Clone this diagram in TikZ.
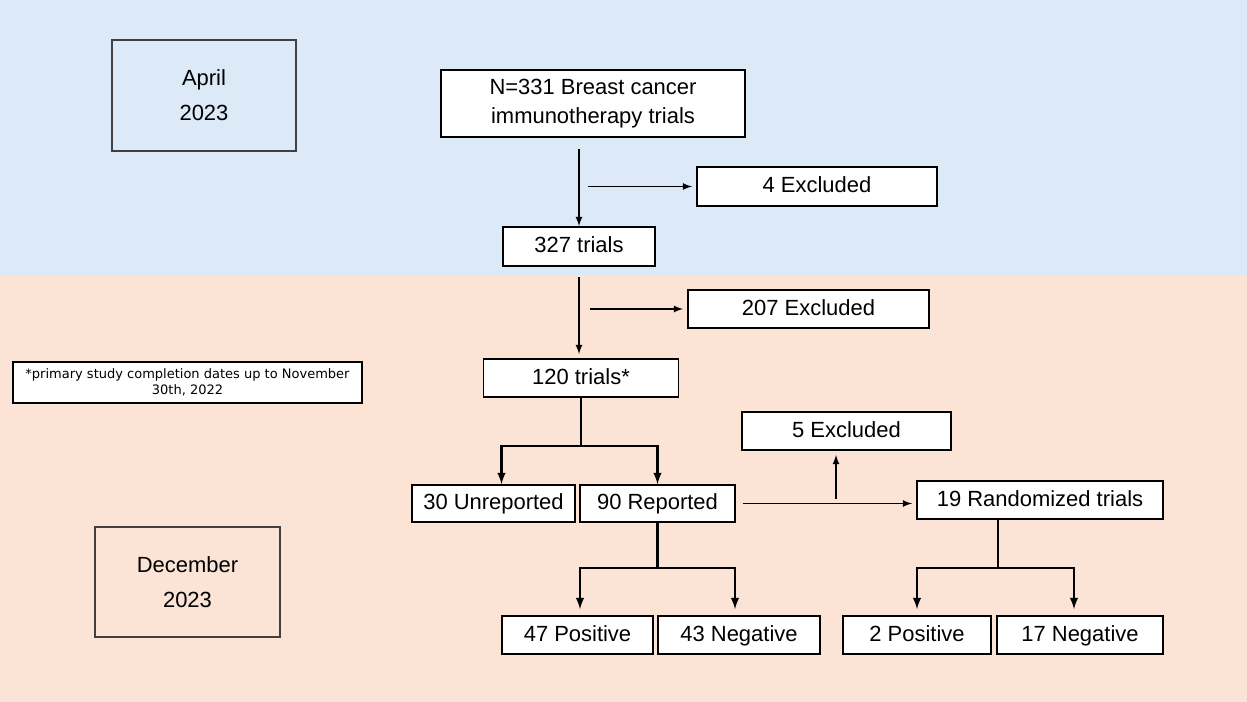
\documentclass[tikz,border=0pt]{standalone}
\usepackage{fontspec}
\setmainfont{Liberation Sans}
\newfontfamily\notefont{DejaVu Sans}
\usetikzlibrary{calc}
\definecolor{AprilBlue}{RGB}{220,233,246}
\definecolor{DecPeach}{RGB}{251,227,214}
\tikzset{
-latex,
Box/.style 2 args={draw,fill=white,line width=1.1pt,inner sep=0pt,align=center,minimum width=#1*0.02cm,minimum height=#2*0.02cm,font=\fontsize{12.5}{16.5}\selectfont},
Cell/.style 2 args={Box={#1}{#2},text height=1.75ex,text depth=0.45ex},
DateBox/.style 2 args={draw=black!75,line width=0.6pt,inner sep=0pt,align=center,minimum width=#1*0.02cm,minimum height=#2*0.02cm,font=\fontsize{12.5}{20}\selectfont},
Link/.style={line width=0.8pt},
Branch/.style={line width=1.2pt}
}

\begin{document}
\begin{tikzpicture}[x=0.02cm,y=-0.02cm]
	% Periods
	\fill[AprilBlue,-] (0,0) rectangle (1247,275);
	\fill[DecPeach,-] (0,275) rectangle (1247,702);
	\node[DateBox={184}{111}] (April) at (204,95.5) {April\\2023};
	\node[DateBox={185}{110}] (December) at (187.5,582) {December\\2023};
	\node[Box={349}{41},line width=1pt,font=\notefont\fontsize{7.4}{9}\selectfont] (Note) at (187.5,382.5) {*primary study completion dates up to November\\30th, 2022};
	
	% Screening
	\node[Box={304}{67}] (N331) at (593,103.5) {N=331 Breast cancer\\immunotherapy trials};
	\node[Cell={240}{39}] (Excl4) at (817,186.5) {4 Excluded};
	\node[Cell={152}{39}] (T327) at (579,246.5) {327 trials};
	\node[Cell={241}{38}] (Excl207) at (808.5,309) {207 Excluded};
	\node[Cell={195}{38}] (T120) at (581,378) {120 trials*};
	\node[Cell={209}{38}] (Excl5) at (846.5,431) {5 Excluded};
	\node[Cell={163}{37}] (Unrep) at (493.5,503.5) {30 Unreported};
	\node[Cell={155}{37}] (Rep) at (657.5,503.5) {90 Reported};
	\node[Cell={246}{38}] (Rand) at (1040,500) {19 Randomized trials};
	
	% Outcomes
	\node[Cell={151}{38}] (Pos47) at (577.5,635) {47 Positive};
	\node[Cell={162}{38}] (Neg43) at (739,635) {43 Negative};
	\node[Cell={148}{38}] (Pos2) at (917,635) {2 Positive};
	\node[Cell={166}{38}] (Neg17) at (1080,635) {17 Negative};
	
	\begin{scope}[Link]
		\draw[shorten <=0.22cm] (N331.south -| T327.north) -- (T327.north);
		\draw[shorten <=0.18cm,shorten >=0.08cm] (Excl4.west -| T327.north) -- (Excl4.west);
		\draw[shorten <=0.2cm,shorten >=0.08cm] (T327.south) -- (T327.south |- T120.north);
		\draw[shorten <=0.18cm,shorten >=0.08cm] (Excl207.west -| T120.north) -- (Excl207.west);
		\draw[shorten <=0.14cm,shorten >=0.08cm] (Rep.east) -- (Rep.east -| Rand.west);
		\draw[shorten <=0.1cm,shorten >=0.08cm] ([xshift=-0.21cm]Excl5.south |- Rep.east) -- ([xshift=-0.21cm]Excl5.south);
	\end{scope}
	
	\begin{scope}[Branch]
		\coordinate (Split120) at ($(T120.south)+(0,48)$);
		\draw[-] (T120.south) -- (Split120);
		\draw (Split120) -| ([xshift=0.16cm]Unrep.north);
		\draw (Split120) -| (Rep.north);
		
		\coordinate (SplitRep) at ($(Rep.south)+(0,45)$);
		\draw[-] (Rep.south) -- (SplitRep);
		\draw[shorten >=0.12cm] (SplitRep) -| ([xshift=0.05cm]Pos47.north);
		\draw[shorten >=0.12cm] (SplitRep) -| ([xshift=-0.08cm]Neg43.north);
		
		\coordinate (SplitRand) at ($(Rand.south)+(-42,48)$);
		\draw[-] (SplitRand |- Rand.south) -- (SplitRand);
		\draw[shorten >=0.12cm] (SplitRand) -| (Pos2.north);
		\draw[shorten >=0.12cm] (SplitRand) -| ([xshift=-0.12cm]Neg17.north);
	\end{scope}
\end{tikzpicture}
\end{document}
